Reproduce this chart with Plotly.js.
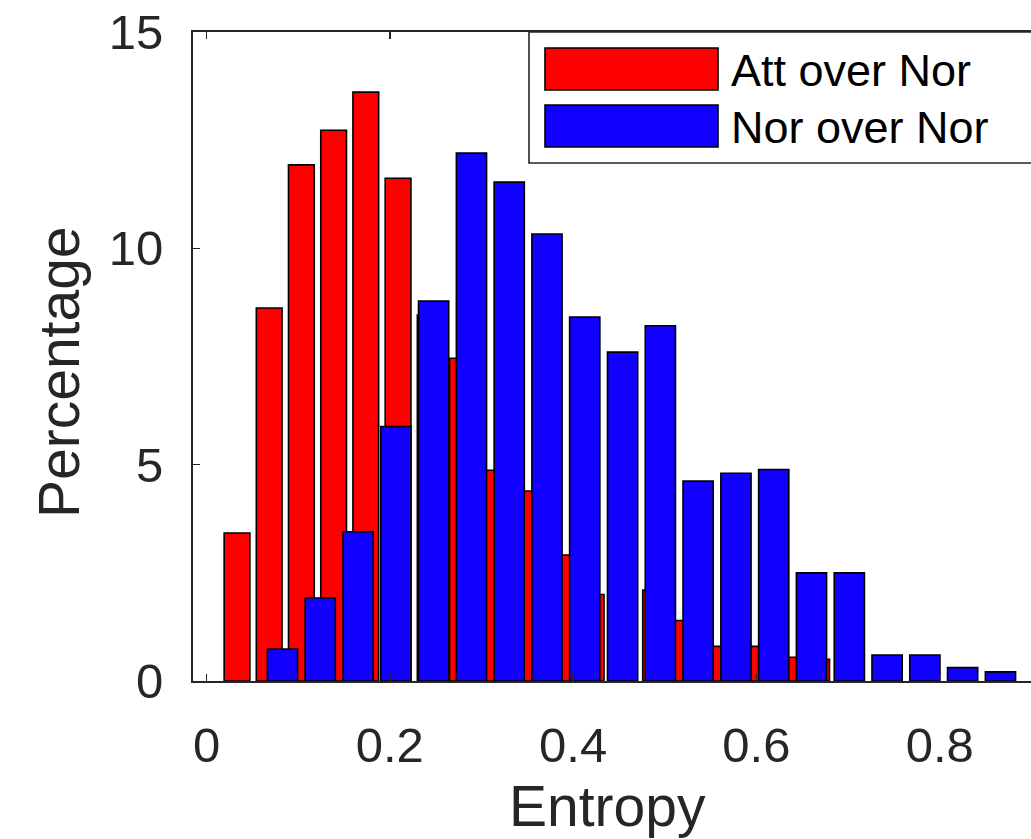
<!DOCTYPE html>
<html>
<head>
<meta charset="utf-8">
<script src="https://cdn.plot.ly/plotly-3.0.1.min.js"></script>
<style>
html, body { margin: 0; padding: 0; overflow: hidden; background: #fff; }
#chart { width: 1040px; height: 839px; }
</style>
</head>
<body>
<div id="chart"></div>
<script>
// ---- data ----
const seriesNames = ["Att over Nor", "Nor over Nor"];

const attBinCenters = [0.0333, 0.0684, 0.1035, 0.1387, 0.1738, 0.2090, 0.2441, 0.2792, 0.3143, 0.3495,
                       0.3846, 0.4197, 0.4549, 0.4900, 0.5251, 0.5603, 0.5954, 0.6305, 0.6657];
const attPercent    = [3.42, 8.62, 11.93, 12.73, 13.61, 11.62, 8.46, 7.46, 4.87, 4.39,
                       2.91, 2.0, 2.0, 2.1, 1.4, 0.8, 0.8, 0.55, 0.5];

const norBinCenters = [0.0829, 0.1241, 0.1654, 0.2066, 0.2478, 0.2891, 0.3303, 0.3715, 0.4127, 0.4540,
                       0.4952, 0.5364, 0.5777, 0.6189, 0.6601, 0.7014, 0.7426, 0.7838, 0.8250, 0.8663];
const norPercent    = [0.74, 1.92, 3.45, 5.88, 8.78, 12.2, 11.53, 10.33, 8.41, 7.6,
                       8.21, 4.62, 4.8, 4.89, 2.5, 2.5, 0.6, 0.6, 0.31, 0.21];

const xTickVals = [0, 0.2, 0.4, 0.6, 0.8];
const xTickText = ["0", "0.2", "0.4", "0.6", "0.8"];
const yTickVals = [0, 5, 10, 15];
const yTickText = ["0", "5", "10", "15"];

const xTitle = "Entropy";
const yTitle = "Percentage";

// ---- styling ----
const RED = "#ff0000";
const BLUE = "#1200ff";
const AXC = "#262626";
const FONT = "Liberation Sans, Arial, Helvetica, sans-serif";

const attBarWidth = 0.8 * (attBinCenters[1] - attBinCenters[0]);
const norBarWidth = 0.8 * (norBinCenters[1] - norBinCenters[0]);

const traces = [
  {
    type: "bar", name: seriesNames[0],
    x: attBinCenters, y: attPercent, width: attBarWidth,
    marker: { color: RED, line: { color: "#000", width: 1.6 } },
    showlegend: false, hoverinfo: "x+y"
  },
  {
    type: "bar", name: seriesNames[1],
    x: norBinCenters, y: norPercent, width: norBarWidth,
    marker: { color: BLUE, line: { color: "#000", width: 1.6 } },
    showlegend: false, hoverinfo: "x+y"
  }
];

// plot area geometry in pixels (for the hand-drawn legend and titles)
const L = 193, T = 32, W = 1040, H = 839, R = 0, B = 158;
const pw = W - L - R, ph = H - T - B;
const px = v => (v - L) / pw;
const py = v => (H - B - v) / ph;

const shapes = [
  { type: "rect", xref: "paper", yref: "paper", x0: px(529), x1: px(1060), y0: py(163), y1: py(32),
    fillcolor: "#ffffff", line: { color: AXC, width: 1.6 }, layer: "above" },
  { type: "rect", xref: "paper", yref: "paper", x0: px(545), x1: px(718), y0: py(90), y1: py(48),
    fillcolor: RED, line: { color: "#000", width: 1.6 }, layer: "above" },
  { type: "rect", xref: "paper", yref: "paper", x0: px(545), x1: px(718), y0: py(147), y1: py(105),
    fillcolor: BLUE, line: { color: "#000", width: 1.6 }, layer: "above" }
];

const annotations = [
  { xref: "paper", yref: "paper", x: px(729), y: py(70), text: seriesNames[0], showarrow: false,
    xanchor: "left", yanchor: "middle", font: { family: FONT, size: 45, color: "#000" } },
  { xref: "paper", yref: "paper", x: px(729), y: py(127), text: seriesNames[1], showarrow: false,
    xanchor: "left", yanchor: "middle", font: { family: FONT, size: 45, color: "#000" } },
  // axis titles
  { xref: "paper", yref: "paper", x: px(607.5), y: py(806), text: xTitle, showarrow: false,
    xanchor: "center", yanchor: "middle", font: { family: FONT, size: 57, color: AXC } },
  { xref: "paper", yref: "paper", x: px(59), y: py(372), text: yTitle, showarrow: false, textangle: -90,
    xanchor: "center", yanchor: "middle", font: { family: FONT, size: 57, color: AXC } }
];

const layout = {
  width: W, height: H,
  margin: { l: L, r: R, t: T, b: B, pad: 0 },
  paper_bgcolor: "#fff", plot_bgcolor: "#fff",
  barmode: "overlay",
  bargap: 0,
  font: { family: FONT, color: AXC },
  xaxis: {
    range: [-0.01473, 0.90944],
    tickvals: xTickVals, ticktext: xTickText,
    ticks: "inside", ticklen: 7, tickwidth: 1.5, tickcolor: AXC,
    showline: true, linecolor: AXC, linewidth: 2, mirror: "ticks",
    showgrid: false, zeroline: false,
    tickfont: { family: FONT, size: 49, color: AXC },
    ticklabelstandoff: 20,
    automargin: false
  },
  yaxis: {
    range: [0, 15],
    tickvals: yTickVals, ticktext: yTickText,
    ticks: "inside", ticklen: 7, tickwidth: 1.5, tickcolor: AXC,
    showline: true, linecolor: AXC, linewidth: 2, mirror: "ticks",
    showgrid: false, zeroline: false,
    tickfont: { family: FONT, size: 49, color: AXC },
    ticklabelstandoff: 18,
    automargin: false
  },
  shapes: shapes,
  annotations: annotations,
  showlegend: false
};

Plotly.newPlot("chart", traces, layout, { displayModeBar: false, staticPlot: true });
</script>
</body>
</html>
